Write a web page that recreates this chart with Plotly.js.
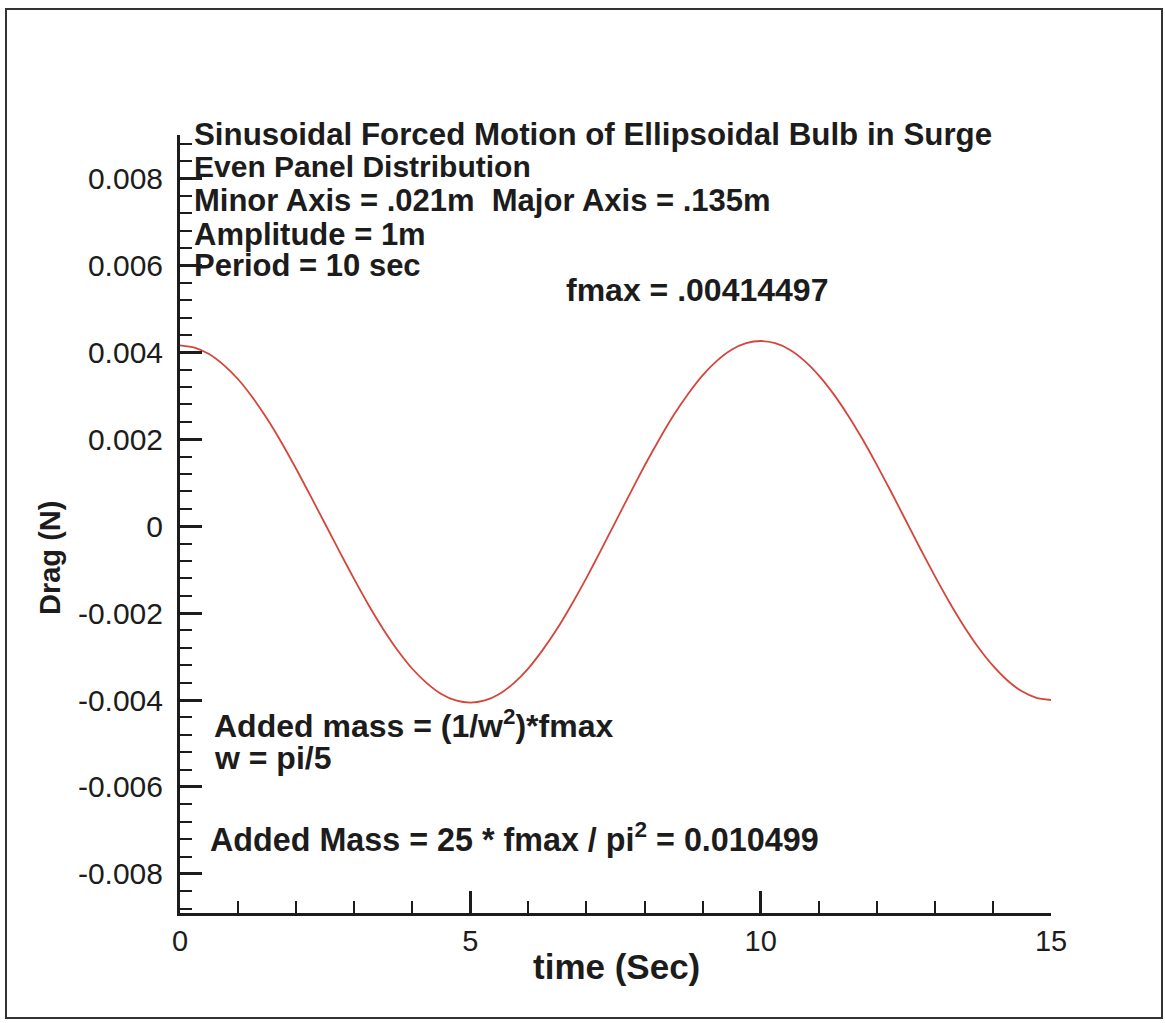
<!DOCTYPE html>
<html>
<head>
<meta charset="utf-8">
<script src="https://cdn.plot.ly/plotly-3.0.1.min.js"></script>
<style>
html,body{margin:0;padding:0;background:#fff;}
#chart{width:1165px;height:1023px;}
</style>
</head>
<body>
<div id="chart"></div>
<script>
// time (Sec)
const timeSec = [0,0.25,0.5,0.75,1,1.25,1.5,1.75,2,2.25,2.5,2.75,3,3.25,3.5,3.75,4,4.25,4.5,4.75,
  5,5.25,5.5,5.75,6,6.25,6.5,6.75,7,7.25,7.5,7.75,8,8.25,8.5,8.75,9,9.25,9.5,9.75,
  10,10.25,10.5,10.75,11,11.25,11.5,11.75,12,12.25,12.5,12.75,13,13.25,13.5,13.75,14,14.25,14.5,14.75,15];
// Drag (N)
const dragN = [0.00416,0.00411,0.00396,0.00371,0.00338,0.00296,0.00247,0.00192,0.00132,0.00069,0.00005,-0.00059,-0.00122,-0.00182,-0.00237,-0.00286,-0.00328,-0.00361,-0.00386,-0.00401,
  -0.00406,-0.00401,-0.00386,-0.00361,-0.00327,-0.00284,-0.00235,-0.00179,-0.00119,-0.00055,0.0001,0.00075,0.00139,0.00199,0.00255,0.00304,0.00347,0.00381,0.00406,0.00421,
  0.00426,0.00421,0.00406,0.00381,0.00347,0.00305,0.00256,0.00201,0.00141,0.00078,0.00013,-0.00052,-0.00115,-0.00175,-0.0023,-0.00279,-0.00321,-0.00355,-0.0038,-0.00395,-0.004];

const yTickVals = [0.008,0.006,0.004,0.002,0,-0.002,-0.004,-0.006,-0.008];
const yTickText = ["0.008","0.006","0.004","0.002","0","-0.002","-0.004","-0.006","-0.008"];
const xTickVals = [0,5,10,15];
const xTickText = ["0","5","10","15"];

const infoLines = [
  "Sinusoidal Forced Motion of Ellipsoidal Bulb in Surge",
  "Even Panel Distribution",
  "Minor Axis = .021m  Major Axis = .135m",
  "Amplitude = 1m",
  "Period = 10 sec"
];
const fmaxText = "fmax = .00414497";
const addedMassLines = ["Added mass = (1/w<sup>2</sup>)*fmax", "w = pi/5"];
const addedMassResult = "Added Mass = 25 * fmax / pi<sup>2</sup> = 0.010499";
const xTitle = "time (Sec)";
const yTitle = "Drag (N)";

const FONT = "Liberation Sans, Arial, sans-serif";
const INK = "#1c1c1c";

// plot area in pixels: x 180..1051, y 135..913
const L=180, R=1051, T=135, B=913;
const px = v => (v-L)/(R-L);
const py = v => (B-v)/(B-T);

const annotations = [];
const infoY = [134,167,200,234,265];
const infoSize = [31.3,30,31,31,31];
infoLines.forEach((t,i)=>annotations.push({text:t, xref:'paper', yref:'paper', x:px(193), y:py(infoY[i]),
  xanchor:'left', yanchor:'middle', showarrow:false, borderpad:0,
  font:{family:FONT, size:infoSize[i], color:INK, weight:'bold'}}));
annotations.push({text:fmaxText, xref:'paper', yref:'paper', x:px(565), y:py(290), xanchor:'left', yanchor:'middle',
  showarrow:false, borderpad:0, font:{family:FONT, size:32, color:INK, weight:'bold'}});
const amY=[724,758];
addedMassLines.forEach((t,i)=>annotations.push({text:t, xref:'paper', yref:'paper', x:px(213), y:py(amY[i]),
  xanchor:'left', yanchor:'middle', showarrow:false, borderpad:0, font:{family:FONT, size:32, color:INK, weight:'bold'}}));
annotations.push({text:addedMassResult, xref:'paper', yref:'paper', x:px(209), y:py(837), xanchor:'left', yanchor:'middle',
  showarrow:false, borderpad:0, font:{family:FONT, size:32.3, color:INK, weight:'bold'}});
annotations.push({text:xTitle, xref:'paper', yref:'paper', x:px(616), y:py(967), xanchor:'center', yanchor:'middle',
  showarrow:false, font:{family:FONT, size:35, color:INK, weight:'bold'}});
annotations.push({text:yTitle, xref:'paper', yref:'paper', x:px(50), y:py(558), xanchor:'center', yanchor:'middle',
  textangle:-90, showarrow:false, font:{family:FONT, size:29, color:INK, weight:'bold'}});

const data = [{
  x: timeSec, y: dragN, type:'scatter', mode:'lines',
  line:{color:'#d4463a', width:1.8, shape:'spline', smoothing:0.6},
  hoverinfo:'skip', showlegend:false
}];

const layout = {
  width:1165, height:1023,
  margin:{l:L, r:1165-R, t:T, b:1023-B, pad:0},
  paper_bgcolor:'#ffffff', plot_bgcolor:'#ffffff',
  showlegend:false,
  font:{family:FONT, color:INK},
  xaxis:{
    range:[0,15], showgrid:false, zeroline:false,
    showline:true, linecolor:INK, linewidth:3,
    tickmode:'array', tickvals:xTickVals, ticktext:xTickText,
    ticks:'inside', ticklen:22, tickwidth:3, tickcolor:INK,
    tickfont:{family:FONT, size:29, color:INK},
    minor:{tickmode:'linear', tick0:0, dtick:1, ticks:'inside', ticklen:12, tickwidth:2, tickcolor:INK, showgrid:false}
  },
  yaxis:{
    range:[-0.0089,0.009], showgrid:false, zeroline:false,
    showline:true, linecolor:INK, linewidth:3,
    tickmode:'array', tickvals:yTickVals, ticktext:yTickText,
    ticks:'inside', ticklen:22, tickwidth:3, tickcolor:INK,
    tickfont:{family:FONT, size:30, color:INK},
    ticklabelstandoff:8,
    minor:{tickmode:'linear', tick0:0, dtick:0.0004, ticks:'inside', ticklen:12, tickwidth:2, tickcolor:INK, showgrid:false}
  },
  annotations: annotations,
  shapes:[{type:'rect', xref:'paper', yref:'paper', x0:px(6), x1:px(1162), y0:py(1018), y1:py(9),
    line:{color:'#333', width:2}, fillcolor:'rgba(0,0,0,0)', layer:'below'}]
};

Plotly.newPlot('chart', data, layout, {displayModeBar:false, staticPlot:true});
</script>
</body>
</html>
